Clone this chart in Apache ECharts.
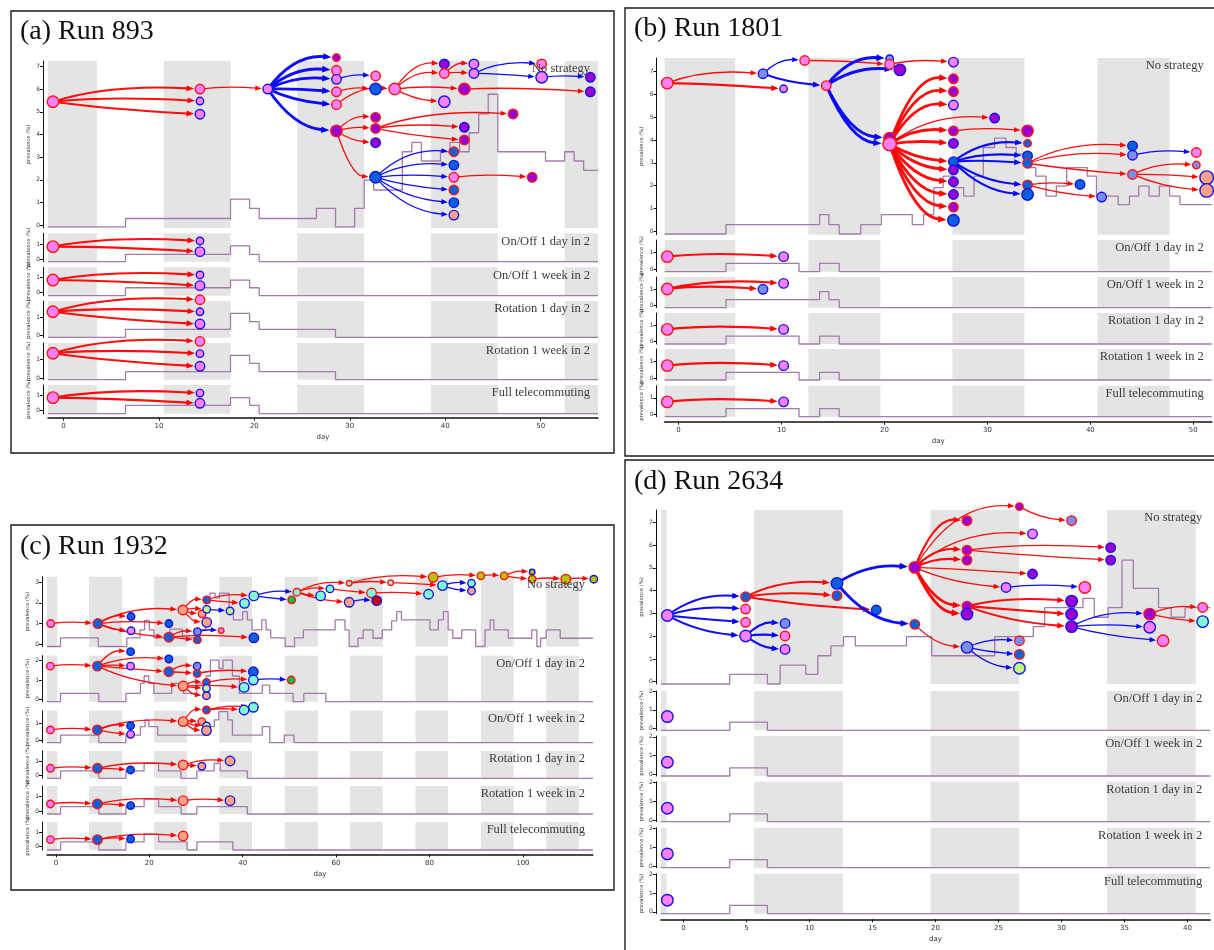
<!DOCTYPE html>
<html>
<head>
<meta charset="utf-8">
<script src="https://cdn.jsdelivr.net/npm/echarts@6/dist/echarts.min.js"></script>
<style>
  html, body { margin: 0; padding: 0; background: #fff; }
  #chart { width: 1214px; height: 950px; }
</style>
</head>
<body>
<div id="chart"></div>
<script>
// ---------------------------------------------------------------------------
// Labels and ticks
// ---------------------------------------------------------------------------
const panelTitles = ['(a) Run 893', '(b) Run 1801', '(c) Run 1932', '(d) Run 2634'];
const facetLabels = ['No strategy', 'On/Off 1 day in 2', 'On/Off 1 week in 2',
                     'Rotation 1 day in 2', 'Rotation 1 week in 2', 'Full telecommuting'];
const dayTicksA = [0, 10, 20, 30, 40, 50];
const dayTicksB = [0, 10, 20, 30, 40, 50];
const dayTicksC = [0, 20, 40, 60, 80, 100];
const dayTicksD = [0, 5, 10, 15, 20, 25, 30, 35, 40];
const prevTicksA = [[0,1,2,3,4,5,6,7],[0,1],[0,1],[0,1],[0,1],[0,1]];
const prevTicksB = [[0,1,2,3,4,5,6,7],[0,1],[0,1],[0,1],[0,1],[0,1]];
const prevTicksC = [[0,1,2,3],[0,1,2],[0,1],[0,1],[0,1],[0,1]];
const prevTicksD = [[0,1,2,3,4,5,6,7],[0,1,2],[0,1,2],[0,1,2],[0,1,2],[0,1,2]];

// Office-closed periods (days)
const bandsA = [[-1.62,3.5],[10.5,17.5],[24.5,31.5],[38.5,45.5],[52.5,56]];
const bandsB = [[-1.36,5.5],[12.6,19.6],[26.6,33.6],[40.7,47.7]];
const bandsC = [[-1.9,0.3],[7.1,14.2],[21,28.1],[35,42],[49,56.1],[63,70],[77,84],[91,98],[105,112]];
const bandsD = [[-1.8,-1.35],[5.6,12.65],[19.6,26.65],[33.6,40.65]];

// Prevalence step curves, one per facet: [day, prevalence]
const prevA = [
  [[-1.62,-0.08],[6.5,0.29],[17.5,1.15],[19.5,0.74],[20.5,0.29],[26.5,0.74],[28.5,-0.08],[30.5,0.74],[31.5,1.99],[32.5,1.55],[35.5,3.24],[36.5,3.65],[37.5,2.83],[39.5,3.24],[40.5,3.65],[41.5,3.24],[42.5,4.08],[43.5,4.91],[44.5,5.78],[45.5,3.24],[50.5,2.83],[52.5,3.24],[53.5,2.83],[54.5,2.42],[56,2.42]],
  [[-1.62,-0.18],[6.5,0.31],[17.5,0.87],[19.5,0.31],[20.5,-0.18],[56,-0.18]],
  [[-1.62,-0.2],[6.5,0.33],[17.5,0.84],[19.5,0.33],[20.5,-0.2],[56,-0.2]],
  [[-1.62,-0.09],[6.5,0.35],[17.5,1.24],[19.5,0.78],[20.5,0.35],[28.5,-0.09],[56,-0.09]],
  [[-1.62,-0.09],[6.5,0.35],[17.5,1.24],[19.5,0.8],[20.5,0.35],[28.5,-0.09],[56,-0.09]],
  [[-1.62,-0.2],[6.5,0.35],[17.5,0.85],[19.5,0.35],[20.5,-0.2],[56,-0.2]]
];
const prevB = [
  [[-1.36,-0.12],[4.6,0.29],[13.7,0.73],[14.6,0.29],[15.6,-0.12],[17.7,0.29],[19.7,0.73],[22.7,0.29],[23.8,0.73],[24.8,1.91],[25.7,2.42],[26.7,1.91],[27.7,1.54],[28.7,2.42],[29.6,3.67],[30.7,4.08],[31.8,3.67],[32.8,3.38],[33.7,2.79],[34.7,2.42],[35.7,1.54],[36.7,1.98],[37.7,2.79],[39.7,2.42],[40.6,1.54],[42.7,1.17],[43.8,1.54],[44.7,1.98],[45.7,1.54],[46.7,1.98],[47.7,1.54],[48.7,1.17],[51.8,1.17]],
  [[-1.36,-0.16],[4.6,0.35],[11.7,-0.16],[13.7,0.35],[15.6,-0.16],[51.8,-0.16]],
  [[-1.36,-0.15],[4.6,0.35],[13.7,0.85],[14.6,0.35],[15.6,-0.15],[51.8,-0.15]],
  [[-1.36,-0.14],[4.6,0.35],[11.7,-0.14],[13.7,0.35],[15.6,-0.14],[51.8,-0.14]],
  [[-1.36,-0.12],[4.6,0.35],[11.7,-0.12],[13.7,0.35],[15.6,-0.12],[51.8,-0.12]],
  [[-1.36,-0.15],[4.6,0.35],[11.7,-0.15],[13.7,0.35],[15.6,-0.15],[51.8,-0.15]]
];
const prevC = [
  [[-1.9,-0.11],[1.0,0.31],[9.1,-0.11],[15.2,0.31],[18.0,0.69],[19.0,1.15],[20.0,0.69],[21.0,0.31],[24.4,0.73],[27.1,0.31],[30.2,0.69],[32.1,1.98],[33.0,2.47],[34.1,2.23],[35.0,2.47],[37.1,1.58],[38.0,1.18],[40.0,1.58],[41.0,1.18],[42.0,0.69],[44.1,1.18],[45.0,0.69],[46.0,0.31],[49.1,-0.11],[51.1,0.31],[53.0,0.69],[59.8,1.18],[61.9,0.69],[62.8,-0.11],[64.7,0.29],[65.8,0.69],[67.9,0.29],[69.9,0.69],[71.9,1.13],[73.0,1.58],[74.0,1.18],[80.1,0.69],[81.9,1.18],[83.0,1.58],[84.0,0.69],[85.0,0.29],[86.9,0.69],[89.9,-0.11],[91.9,0.69],[93.0,1.18],[93.8,0.69],[96.9,0.29],[101.9,0.69],[103.0,-0.11],[103.8,0.29],[105.0,0.69],[108.0,0.29],[115,0.29]],
  [[-1.9,-0.12],[1.0,0.31],[9.2,-0.12],[15.0,0.31],[18.1,0.83],[18.9,1.21],[19.9,0.83],[21.0,0.31],[24.8,0.83],[27.3,0.31],[30.2,0.83],[32.2,1.21],[33.1,2.03],[34.9,1.6],[35.8,2.03],[37.8,1.21],[39.3,0.31],[44.2,0.74],[45.8,0.31],[50.8,-0.12],[53.1,0.31],[57.8,-0.12],[115,-0.12]],
  [[-1.9,-0.12],[1.0,0.33],[9.2,-0.12],[15.0,0.33],[18.1,0.82],[19.1,1.22],[19.9,0.82],[21.8,0.33],[32.25,0.82],[33.9,1.22],[34.9,1.7],[36.8,1.22],[37.8,0.33],[44.2,0.82],[45.8,-0.12],[48.9,0.33],[51.0,-0.12],[115,-0.12]],
  [[-1.9,-0.18],[1.0,0.32],[9.2,-0.18],[15.0,0.32],[18.9,0.84],[22.0,0.32],[26.8,-0.18],[30.2,0.32],[33.9,0.84],[35.2,0.32],[41.0,-0.18],[115,-0.18]],
  [[-1.9,-0.2],[1.0,0.29],[9.2,-0.2],[15.0,0.29],[18.9,0.8],[22.0,0.29],[26.8,-0.2],[30.2,0.29],[41.0,-0.2],[115,-0.2]],
  [[-1.9,-0.23],[1.0,0.33],[9.2,-0.23],[15.0,0.33],[18.9,0.86],[22.0,0.33],[28.1,-0.23],[30.2,0.33],[37.9,-0.23],[115,-0.23]]
];
const prevD = [
  [[-1.8,-0.1],[3.67,0.32],[6.66,-0.1],[7.67,0.73],[9.7,0.32],[10.66,1.14],[11.7,1.57],[12.7,1.98],[13.64,1.57],[17.7,1.98],[19.7,1.14],[24.7,1.98],[27.76,2.42],[28.66,3.25],[31.7,3.66],[32.6,2.83],[33.7,3.25],[34.8,5.34],[35.7,4.1],[37.7,3.25],[38.7,2.83],[39.8,3.25],[41.8,3.25]],
  [[-1.8,-0.09],[3.67,0.34],[6.66,-0.09],[41.8,-0.09]],
  [[-1.8,-0.09],[3.67,0.34],[6.66,-0.09],[41.8,-0.09]],
  [[-1.8,-0.07],[3.67,0.34],[6.66,-0.07],[41.8,-0.07]],
  [[-1.8,-0.09],[3.67,0.34],[6.66,-0.09],[41.8,-0.09]],
  [[-1.8,-0.1],[3.67,0.34],[6.66,-0.1],[41.8,-0.1]]
];

// Infected employees: [day of infection, position, weight class, group, status]
// group: P pink, U purple, B blue, C cornflower, S salmon, A aquamarine,
//        G light green, N green, O olive, R dark red; status: r / b
const nodesA = [
  [[-1.1,5.45,4,'P','r'],[14.3,6.01,3,'P','r'],[14.3,5.48,2,'P','b'],[14.3,4.9,3,'P','b'],[21.4,6.01,3,'P','b'],
   [28.6,7.4,2,'U','r'],[28.6,6.84,3,'P','r'],[28.6,6.44,3,'P','b'],[28.6,5.89,3,'P','r'],[28.6,5.32,3,'P','r'],[28.6,4.16,4,'U','r'],
   [32.7,6.59,3,'P','r'],[32.7,6.01,4,'B','b'],[34.7,6.01,4,'P','r'],[39.9,7.12,3,'U','b'],[39.9,6.7,3,'P','r'],[39.9,5.45,4,'P','b'],
   [42.0,6.01,4,'U','r'],[43.0,7.12,3,'P','b'],[43.0,6.7,3,'P','b'],[50.1,7.12,3,'P','r'],[50.1,6.53,4,'P','b'],[55.2,6.53,3,'U','b'],[55.2,5.89,3,'U','b'],
   [32.7,4.76,3,'U','r'],[32.7,4.27,3,'U','r'],[32.7,3.64,3,'U','b'],[32.7,2.11,4,'B','b'],[42.0,4.32,3,'U','b'],[42.0,3.76,3,'U','r'],[47.1,4.91,3,'U','r'],
   [40.9,3.24,3,'B','r'],[40.9,2.65,3,'B','b'],[40.9,2.11,3,'P','r'],[40.9,1.55,3,'B','r'],[40.9,0.99,3,'B','b'],[40.9,0.44,3,'S','b'],[49.1,2.11,3,'U','r']],
  [[-1.1,0.82,4,'P','r'],[14.3,1.2,2,'P','b'],[14.3,0.49,3,'P','b']],
  [[-1.1,0.84,4,'P','r'],[14.3,1.18,2,'P','b'],[14.3,0.47,3,'P','b']],
  [[-1.1,1.33,4,'P','r'],[14.3,2.0,3,'P','r'],[14.3,1.33,2,'P','b'],[14.3,0.65,3,'P','b']],
  [[-1.1,1.35,4,'P','r'],[14.3,2.0,3,'P','r'],[14.3,1.33,2,'P','b'],[14.3,0.64,3,'P','b']],
  [[-1.1,0.85,4,'P','r'],[14.3,1.15,2,'P','b'],[14.3,0.48,3,'P','b']]
];
const nodesB = [
  [[-1.1,6.49,4,'P','r'],[8.2,6.9,3,'C','b'],[10.2,6.24,2,'P','b'],[12.25,7.48,3,'P','r'],[14.35,6.38,3,'P','r'],
   [20.5,7.56,2,'C','b'],[20.5,7.31,3,'P','r'],[21.5,7.07,4,'U','b'],[26.7,7.41,3,'P','b'],[20.5,4.08,4,'U','r'],[20.5,3.82,5,'P','r'],
   [26.7,6.68,3,'U','r'],[26.7,6.12,3,'U','r'],[26.7,5.53,3,'P','b'],[30.7,4.96,3,'U','b'],[26.7,4.4,3,'U','r'],[26.7,3.85,3,'U','b'],
   [26.7,3.05,3,'B','b'],[26.7,2.69,3,'U','b'],[26.7,2.17,3,'U','b'],[26.7,1.61,3,'U','b'],[26.7,1.06,3,'U','r'],[26.7,0.48,4,'B','b'],
   [33.9,4.4,4,'U','r'],[33.9,3.85,2,'B','r'],[33.9,3.3,3,'B','b'],[33.9,2.98,3,'B','r'],[33.9,2.03,3,'B','r'],[33.9,1.61,4,'B','b'],
   [39.0,2.05,3,'B','b'],[41.1,1.5,3,'C','b'],[44.1,3.74,3,'B','b'],[44.1,3.33,3,'C','b'],[44.1,2.49,3,'C','r'],
   [50.3,3.45,3,'P','r'],[50.3,2.9,2,'C','r'],[51.3,2.35,5,'S','b'],[51.3,1.79,5,'S','b']],
  [[-1.1,0.76,4,'P','r'],[10.2,0.76,3,'P','b']],
  [[-1.1,1.02,4,'P','r'],[10.2,1.37,3,'P','b'],[8.2,1.0,3,'C','b']],
  [[-1.1,0.76,4,'P','r'],[10.2,0.76,3,'P','b']],
  [[-1.1,0.76,4,'P','r'],[10.2,0.76,3,'P','b']],
  [[-1.1,0.76,4,'P','r'],[10.2,0.76,3,'P','b']]
];
const nodesC = [
  [[-1.1,1.0,2,'P','r'],[9.0,1.0,3,'B','r'],[16.1,1.34,2,'B','b'],[24.2,1.0,2,'B','b'],[16.1,0.65,2,'P','b'],[24.2,0.34,3,'B','r'],
   [27.2,1.66,3,'S','r'],[32.3,2.15,2,'B','r'],[31.3,1.47,2,'S','r'],[32.3,1.06,3,'S','b'],[32.3,1.69,2,'G','b'],[37.3,1.61,2,'G','b'],
   [40.4,1.98,3,'A','b'],[42.4,2.34,3,'A','b'],[30.3,0.61,2,'C','b'],[30.3,0.21,2,'B','r'],[42.4,0.31,3,'B','b'],[35.4,0.66,1,'P','r'],
   [50.5,2.15,2,'N','r'],[51.6,2.52,2,'A','r'],[56.7,2.34,3,'A','b'],[58.7,2.68,2,'A','b'],[62.8,2.95,1,'A','r'],[62.8,2.03,3,'S','b'],
   [67.6,2.48,3,'A','r'],[68.7,2.11,3,'R','b'],[71.7,2.98,1,'A','r'],[80.8,3.24,3,'O','r'],[79.8,2.42,3,'A','b'],[82.8,2.84,3,'A','b'],
   [89.0,2.95,2,'A','b'],[89.0,2.58,2,'S','b'],[91.0,3.31,2,'O','r'],[96.0,3.31,2,'O','r'],[102.0,3.5,1,'O','b'],[102.0,3.15,2,'O','r'],
   [109.2,3.15,3,'O','r'],[115.2,3.15,2,'O','b']],
  [[-1.17,1.72,2,'P','r'],[8.9,1.72,3,'B','r'],[16,2.47,2,'B','b'],[16,1.72,2,'P','b'],[24.2,2.09,2,'B','b'],[24.2,1.43,3,'B','r'],
   [30.25,1.72,2,'C','b'],[30.25,1.34,2,'B','r'],[27.25,0.69,3,'S','r'],[32.25,0.88,2,'B','r'],[32.25,0.57,2,'G','b'],[32.25,0.19,2,'S','b'],
   [40.3,0.62,3,'A','b'],[42.3,1.43,3,'B','b'],[42.3,1.0,3,'A','b'],[50.4,1.0,2,'N','r']],
  [[-1.17,0.63,2,'P','r'],[8.9,0.63,3,'B','r'],[16,0.88,2,'B','b'],[16,0.37,2,'P','b'],[27.25,1.12,3,'S','r'],[31.25,1.12,2,'S','r'],
   [32.25,1.8,2,'B','r'],[32.25,0.86,2,'G','b'],[32.25,0.59,3,'S','b'],[40.3,1.8,3,'A','b'],[42.3,1.96,3,'A','b']],
  [[-1.17,0.5,2,'P','r'],[8.9,0.5,3,'B','r'],[16,0.39,2,'B','b'],[27.25,0.73,3,'S','r'],[31.25,0.64,2,'S','b'],[37.3,1.0,3,'S','b']],
  [[-1.17,0.47,2,'P','r'],[8.9,0.47,3,'B','r'],[16,0.36,2,'B','b'],[27.25,0.69,3,'S','r'],[37.3,0.69,3,'S','b']],
  [[-1.17,0.49,2,'P','r'],[8.9,0.49,3,'B','r'],[16,0.53,2,'B','b'],[27.25,0.74,3,'S','r']]
];
const nodesD = [
  [[-1.28,2.91,4,'P','b'],[4.93,3.73,3,'B','r'],[4.93,3.19,3,'P','r'],[4.93,2.61,3,'P','r'],[4.93,2.01,4,'P','b'],
   [8.06,2.56,3,'C','b'],[8.06,2.01,3,'P','r'],[8.06,1.42,3,'P','b'],[12.18,4.32,4,'B','b'],[12.18,3.78,3,'B','r'],[15.3,3.15,3,'B','b'],
   [18.36,5.02,4,'U','r'],[18.36,2.52,3,'B','r'],[22.5,7.07,3,'U','r'],[26.66,7.69,2,'U','r'],[30.8,7.07,3,'C','r'],[27.7,6.49,3,'P','b'],
   [22.5,5.78,3,'U','r'],[22.5,5.34,3,'U','r'],[33.9,5.89,3,'U','b'],[33.9,5.34,3,'U','b'],[27.7,4.73,3,'U','b'],[25.6,4.14,3,'P','b'],
   [31.85,4.14,4,'P','r'],[22.5,3.32,3,'U','r'],[22.5,2.97,4,'U','b'],[30.8,3.54,4,'U','b'],[30.8,2.96,4,'U','b'],[30.8,2.42,4,'U','b'],
   [22.5,1.51,4,'C','b'],[26.66,1.8,3,'C','r'],[26.66,1.2,3,'B','r'],[26.66,0.59,4,'G','b'],[37.0,2.97,4,'U','r'],[37.0,2.39,4,'P','b'],
   [38.06,1.8,4,'P','r'],[41.2,3.26,3,'P','r'],[41.2,2.64,4,'A','b']],
  [[-1.28,0.64,4,'P','b']],
  [[-1.28,0.64,4,'P','b']],
  [[-1.28,0.64,4,'P','b']],
  [[-1.28,0.64,4,'P','b']],
  [[-1.28,0.62,4,'P','b']]
];

// Transmissions: [infector index, infectee index, setting r / b, strength 1-3]
const edgesA = [
  [[0,1,'r',2],[0,2,'r',2],[0,3,'r',2],[1,4,'r',1],
   [4,5,'b',3],[4,6,'b',3],[4,7,'b',3],[4,8,'b',3],[4,9,'b',3],[4,10,'b',3],
   [7,11,'b',1],[8,12,'r',1],[9,13,'r',1],
   [13,14,'r',1],[13,15,'r',1],[13,16,'r',1],[13,17,'r',1],
   [15,18,'r',1],[15,19,'r',1],[19,20,'b',1],[19,21,'b',1],[21,22,'b',1],[17,23,'r',1],
   [10,24,'r',1],[10,25,'r',1],[10,26,'r',1],[10,27,'r',1],[25,28,'r',1],[25,29,'r',1],[25,30,'r',1],
   [27,31,'b',1],[27,32,'b',1],[27,33,'b',1],[27,34,'b',1],[27,35,'b',1],[27,36,'b',1],[33,37,'r',1]],
  [[0,1,'r',2],[0,2,'r',2]],
  [[0,1,'r',2],[0,2,'r',2]],
  [[0,1,'r',2],[0,2,'r',2],[0,3,'r',2]],
  [[0,1,'r',2],[0,2,'r',2],[0,3,'r',2]],
  [[0,1,'r',2],[0,2,'r',2]]
];
const edgesB = [
  [[0,1,'r',1],[0,2,'r',2],[1,3,'b',1],[1,4,'b',2],[3,6,'r',1],[4,5,'b',3],[4,7,'b',3],[6,8,'r',1],[4,9,'b',3],[4,10,'b',3],
   [10,11,'r',3],[10,12,'r',3],[10,13,'r',3],[10,14,'r',1],[10,15,'r',3],[10,16,'r',3],[10,17,'r',3],[10,18,'r',3],
   [10,19,'r',3],[10,20,'r',3],[10,21,'r',3],[10,22,'r',3],
   [15,23,'r',1],[17,24,'b',2],[17,25,'b',2],[17,26,'b',2],[17,27,'b',2],[17,28,'b',2],
   [27,29,'r',1],[27,30,'r',1],[26,31,'r',1],[26,32,'r',1],[26,33,'r',1],[32,34,'b',1],[33,35,'r',1],[33,36,'r',1],[33,37,'r',1]],
  [[0,1,'r',2]],
  [[0,1,'r',2],[0,2,'r',2]],
  [[0,1,'r',2]],
  [[0,1,'r',2]],
  [[0,1,'r',2]]
];
const edgesC = [
  [[0,1,'r',1],[1,2,'r',1],[1,3,'r',1],[1,4,'r',1],[1,5,'r',1],[1,6,'r',1],
   [6,7,'r',1],[6,8,'r',1],[6,9,'r',1],[6,10,'r',1],[10,11,'b',1],[7,12,'r',1],[7,13,'r',1],
   [5,14,'r',1],[5,15,'r',1],[5,16,'r',1],[14,17,'b',1],[13,18,'b',1],[13,19,'b',1],
   [19,20,'r',1],[19,21,'r',1],[19,22,'r',1],[19,23,'r',1],[21,24,'r',1],[23,25,'b',1],
   [22,26,'r',1],[22,27,'r',1],[24,28,'r',1],[26,29,'r',1],[29,30,'b',1],[29,31,'b',1],
   [27,32,'r',1],[32,33,'r',1],[33,34,'r',1],[33,35,'r',1],[35,36,'r',1],[36,37,'r',1]],
  [[0,1,'r',1],[1,2,'r',1],[1,3,'r',1],[1,4,'r',1],[1,5,'r',1],[1,8,'r',1],[5,6,'r',1],[5,7,'r',1],[7,13,'r',1],
   [8,9,'r',1],[8,10,'r',1],[8,11,'r',1],[8,12,'r',1],[9,14,'r',1],[14,15,'b',1]],
  [[0,1,'r',1],[1,2,'r',1],[1,3,'r',1],[1,4,'r',1],[4,5,'r',1],[4,6,'r',1],[4,7,'r',1],[4,8,'r',1],[6,9,'r',1],[6,10,'r',1]],
  [[0,1,'r',1],[1,2,'r',1],[1,3,'r',1],[3,4,'r',1],[3,5,'r',1]],
  [[0,1,'r',1],[1,2,'r',1],[1,3,'r',1],[3,4,'r',1]],
  [[0,1,'r',1],[1,2,'r',1],[1,3,'r',1]]
];
const edgesD = [
  [[0,1,'b',2],[0,2,'b',2],[0,3,'b',2],[0,4,'b',2],[4,5,'b',2],[4,6,'b',2],[4,7,'b',2],
   [1,8,'r',2],[1,9,'r',2],[1,10,'r',2],[8,11,'b',3],[8,12,'b',3],
   [11,13,'r',2],[11,14,'r',1],[14,15,'r',1],[11,16,'r',1],[11,17,'r',2],[11,18,'r',2],[17,19,'r',1],[17,20,'r',1],
   [11,21,'r',1],[11,22,'r',1],[22,23,'b',1],[11,24,'r',3],[11,25,'r',3],[24,26,'r',2],[24,27,'r',2],[24,28,'r',2],
   [12,29,'r',1],[29,30,'b',1],[29,31,'b',1],[29,32,'b',1],[28,33,'b',1],[28,34,'b',1],[28,35,'b',1],[33,36,'r',1],[33,37,'r',1]],
  [], [], [], [], []
];

// ---------------------------------------------------------------------------
// Styles
// ---------------------------------------------------------------------------
const FILL = { P:'#ff80ff', U:'#9a00d2', B:'#0b5fd8', C:'#7d8cf2', S:'#ffa285',
               A:'#80ffd6', G:'#c0f58a', N:'#00c44a', O:'#b8c400', R:'#cc0000' };
const RING = { r:'#ff1414', b:'#1414e6' };
const EDGE_COLOR = ['#ff0000', '#0000ff'];
const EDGE_WIDTH = [0, 1.3, 2.1, 2.9];
const NODE_SIZE = [0, 5.5, 7.5, 9.5, 11.5, 13.5];
const SERIF = '"Liberation Serif", "DejaVu Serif", serif';
const SANS = '"DejaVu Sans", sans-serif';

// Panel geometry (pixels) and facet rows: [top, bottom, yMin, yMax]
const PANELS = [
  { box:[11,11,603,442], title:[20,32], left:48, right:598, xMin:-1.62, xMax:56, yOff:5, xOff:4,
    rows:[[61,228,-0.13,7.25],[233.3,261.7,-0.18,1.71],[267.3,295.7,-0.2,1.69],[301,337.7,-0.11,1.93],[343,379.7,-0.09,1.91],[385,413.7,-0.2,1.68]] },
  { box:[625,8,620,448], title:[634,29], left:664.6, right:1211.8, xMin:-1.36, xMax:51.8, yOff:8, xOff:5,
    rows:[[58,234.7,-0.15,7.59],[240,271.7,-0.16,1.78],[277,307.7,-0.15,1.77],[313,344,-0.14,1.77],[349,380,-0.12,1.78],[385.7,416.7,-0.15,1.75]] },
  { box:[11,525,603,365], title:[20,547], left:47, right:592.9, xMin:-1.9, xMax:115, yOff:5, xOff:4.3,
    rows:[[576.7,646.7,-0.12,3.27],[655.7,701.7,-0.12,2.26],[710.7,742.7,-0.12,1.76],[751,778.3,-0.18,1.68],[786,814,-0.2,1.67],[822,850,-0.23,1.71]] },
  { box:[625,460,620,520], title:[634,482], left:660.8, right:1210.2, xMin:-1.8, xMax:41.8, yOff:5, xOff:5.6,
    rows:[[510,684,-0.1,7.54],[691,730.3,-0.09,2.0],[736,776,-0.09,2.04],[781.7,821.7,-0.07,2.05],[827.7,867.7,-0.09,2.03],[873.7,913.7,-0.1,2.03]] }
];
const PANEL_DATA = [
  { nodes:nodesA, edges:edgesA, prev:prevA, bands:bandsA, dayTicks:dayTicksA, prevTicks:prevTicksA },
  { nodes:nodesB, edges:edgesB, prev:prevB, bands:bandsB, dayTicks:dayTicksB, prevTicks:prevTicksB },
  { nodes:nodesC, edges:edgesC, prev:prevC, bands:bandsC, dayTicks:dayTicksC, prevTicks:prevTicksC },
  { nodes:nodesD, edges:edgesD, prev:prevD, bands:bandsD, dayTicks:dayTicksD, prevTicks:prevTicksD }
];

// Curved transmission arrow from infector to infectee, stopping at the infectee's rim
function renderEdge(params, api) {
  const p0 = api.coord([api.value(0), api.value(1)]);
  const p1 = api.coord([api.value(2), api.value(3)]);
  const r1 = api.value(4);
  const color = EDGE_COLOR[api.value(5)];
  const lw = EDGE_WIDTH[api.value(6)];
  const dx = p1[0] - p0[0];
  const bend = Math.min(Math.abs(dx) * 0.05, 5);
  const cx = p0[0] + 0.38 * dx, cy = p1[1] - bend;
  let tx = p1[0] - cx, ty = p1[1] - cy;
  const tl = Math.hypot(tx, ty) || 1; tx /= tl; ty /= tl;
  const tip = [p1[0] - tx * (r1 + 0.6), p1[1] - ty * (r1 + 0.6)];
  const L = 5 + lw * 1.1, W = 4 + lw * 0.9;
  const base = [tip[0] - tx * L, tip[1] - ty * L];
  const nx = -ty, ny = tx;
  return {
    type: 'group',
    children: [
      { type: 'bezierCurve',
        shape: { x1: p0[0], y1: p0[1], cpx1: cx, cpy1: cy, x2: base[0] + tx, y2: base[1] + ty },
        style: { stroke: color, lineWidth: lw, fill: 'none', opacity: 0.95 } },
      { type: 'polygon',
        shape: { points: [tip, [base[0] + nx * W / 2, base[1] + ny * W / 2], [base[0] - nx * W / 2, base[1] - ny * W / 2]] },
        style: { fill: color } }
    ]
  };
}

const grids = [], xAxes = [], yAxes = [], series = [], graphics = [];

PANELS.forEach((P, pi) => {
  const D = PANEL_DATA[pi];
  graphics.push({ type: 'rect', z: 50, shape: { x: P.box[0], y: P.box[1], width: P.box[2], height: P.box[3] },
                  style: { fill: 'none', stroke: '#1a1a1a', lineWidth: 1.4 } });
  graphics.push({ type: 'text', z: 50, x: P.title[0], y: P.title[1],
                  style: { text: panelTitles[pi], font: '28px ' + SERIF, fill: '#111', textAlign: 'left', textVerticalAlign: 'middle' } });

  P.rows.forEach((row, ri) => {
    const [top, bottom, yMin, yMax] = row;
    const gi = grids.length;
    const isLast = ri === P.rows.length - 1;
    grids.push({ left: P.left, top: top, width: P.right - P.left, height: bottom - top });
    xAxes.push({
      gridIndex: gi, type: 'value', min: P.xMin, max: P.xMax,
      offset: isLast ? P.xOff : 0,
      axisLine: { show: isLast, onZero: false, lineStyle: { color: '#111', width: 1.5 } },
      axisTick: { show: isLast, length: 3, customValues: D.dayTicks, lineStyle: { color: '#111' } },
      axisLabel: { show: isLast, customValues: D.dayTicks, fontSize: 7, color: '#333', margin: 5, fontFamily: SANS },
      splitLine: { show: false },
      name: isLast ? 'day' : '', nameLocation: 'middle', nameGap: 16,
      nameTextStyle: { fontSize: 7, color: '#333', fontFamily: SANS }
    });
    const ticks = D.prevTicks[ri];
    yAxes.push({
      gridIndex: gi, type: 'value', min: yMin, max: yMax, offset: P.yOff,
      axisLine: { show: true, onZero: false, lineStyle: { color: '#111', width: 1 } },
      axisTick: { show: true, length: 3, customValues: ticks, lineStyle: { color: '#111' } },
      axisLabel: { customValues: ticks, fontSize: 6, color: '#333', margin: 3, fontFamily: SANS },
      splitLine: { show: false },
      name: 'prevalence (%)', nameLocation: 'middle', nameGap: 12,
      nameTextStyle: { fontSize: 5.2, color: '#333', fontFamily: SANS }
    });

    // prevalence step curve with closed-office shading
    series.push({
      type: 'line', xAxisIndex: gi, yAxisIndex: gi, step: 'end', showSymbol: false, symbol: 'none',
      data: D.prev[ri], clip: false, z: 1, silent: true,
      lineStyle: { color: '#a47aaa', width: 1.3 },
      markArea: { silent: true, itemStyle: { color: '#e4e4e4' },
                  data: D.bands.map(b => [{ xAxis: b[0] }, { xAxis: b[1] }]) }
    });

    // transmission arrows
    const nodes = D.nodes[ri];
    const edgeData = D.edges[ri].map(e => {
      const a = nodes[e[0]], b = nodes[e[1]];
      return [a[0], a[1], b[0], b[1], NODE_SIZE[b[2]] / 2 + 0.7, e[2] === 'r' ? 0 : 1, e[3]];
    });
    if (edgeData.length) {
      series.push({ type: 'custom', xAxisIndex: gi, yAxisIndex: gi, renderItem: renderEdge,
                    data: edgeData, clip: false, z: 2, silent: true });
    }

    // infected employees
    series.push({
      type: 'scatter', xAxisIndex: gi, yAxisIndex: gi, clip: false, z: 3, silent: true,
      data: nodes.map(n => ({
        value: [n[0], n[1]], symbolSize: NODE_SIZE[n[2]],
        itemStyle: { color: FILL[n[3]], borderColor: RING[n[4]], borderWidth: 1.4, opacity: 1 }
      }))
    });

    graphics.push({ type: 'text', z: 40, x: P.right - 8, y: top + 8,
                    style: { text: facetLabels[ri], font: '12.5px ' + SERIF, fill: '#3a3a3a',
                             textAlign: 'right', textVerticalAlign: 'middle' } });
  });
});

const chart = echarts.init(document.getElementById('chart'), null, { renderer: 'canvas' });
chart.setOption({
  backgroundColor: '#ffffff',
  animation: false,
  grid: grids,
  xAxis: xAxes,
  yAxis: yAxes,
  series: series,
  graphic: graphics
});
</script>
</body>
</html>
